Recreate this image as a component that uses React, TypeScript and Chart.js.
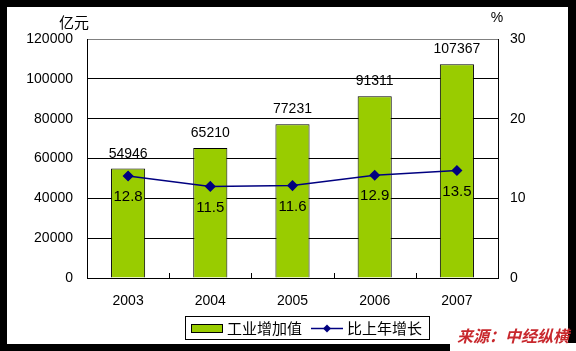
import React, { useEffect, useRef } from "react";
import { Chart, registerables } from "chart.js";

Chart.register(...registerables);

const categories = ["2003", "2004", "2005", "2006", "2007"];
const industryValues = [54946, 65210, 77231, 91311, 107367];
const growthValues = [12.8, 11.5, 11.6, 12.9, 13.5];
const leftTicks = [0, 20000, 40000, 60000, 80000, 100000, 120000];
const rightTicks = [0, 10, 20, 30];
const seriesNames = ["工业增加值", "比上年增长"];
const leftTitle = "亿元";
const rightTitle = "%";
const sourceText = "来源：中经纵横";

const BAR_COLOR = "#99cc00";
const LINE_COLOR = "#000080";
const FONT = "'Liberation Sans', Arial, sans-serif";
const CJK = "'Noto Sans CJK SC', 'DejaVu Sans', sans-serif";

const framePlugin = {
  id: "frame",
  beforeDraw(chart: any) {
    const { ctx, width, height } = chart;
    ctx.save();
    ctx.fillStyle = "#000";
    ctx.fillRect(0, 0, width, height);
    ctx.fillStyle = "#fff";
    ctx.fillRect(7, 7, 561, 337);
    ctx.fillRect(450, 343, 126, 8);
    ctx.restore();
  },
  afterDraw(chart: any) {
    const { ctx, chartArea } = chart;
    const xs = chart.scales.x;
    const ys = chart.scales.y;
    const y1 = chart.scales.y1;
    ctx.save();
    ctx.strokeStyle = "#000";
    ctx.lineWidth = 1;
    for (let i = 1; i < categories.length; i++) {
      const xp = Math.round((xs.getPixelForValue(i - 1) + xs.getPixelForValue(i)) / 2) + 0.5;
      ctx.beginPath();
      ctx.moveTo(xp, chartArea.bottom);
      ctx.lineTo(xp, chartArea.bottom - 5);
      ctx.stroke();
    }
    ctx.font = "14px " + FONT;
    ctx.fillStyle = "#000";
    ctx.textAlign = "center";
    ctx.textBaseline = "alphabetic";
    industryValues.forEach((v, i) => {
      const xp = xs.getPixelForValue(i);
      const yp = ys.getPixelForValue(v);
      ctx.fillText(String(v), xp, yp - 11);
    });
    ctx.font = "15px " + FONT;
    ctx.textBaseline = "middle";
    growthValues.forEach((v, i) => {
      const xp = xs.getPixelForValue(i);
      const yp = y1.getPixelForValue(v);
      ctx.fillText(v.toFixed(1), xp, yp + 21);
    });
    ctx.font = "15px " + CJK;
    ctx.textAlign = "center";
    ctx.fillText(leftTitle, 74, 22);
    ctx.font = "14px " + FONT;
    ctx.fillText(rightTitle, 497, 18);
    ctx.strokeStyle = "#000";
    ctx.lineWidth = 1;
    ctx.strokeRect(185.5, 316.5, 244, 23);
    ctx.fillStyle = BAR_COLOR;
    ctx.fillRect(191, 324, 31, 8);
    ctx.strokeRect(191.5, 324.5, 31, 8);
    ctx.fillStyle = "#000";
    ctx.font = "15px " + CJK;
    ctx.textAlign = "left";
    ctx.textBaseline = "middle";
    ctx.fillText(seriesNames[0], 227, 328.5);
    ctx.strokeStyle = LINE_COLOR;
    ctx.lineWidth = 1.5;
    ctx.beginPath();
    ctx.moveTo(311, 328.5);
    ctx.lineTo(343, 328.5);
    ctx.stroke();
    ctx.fillStyle = LINE_COLOR;
    ctx.beginPath();
    ctx.moveTo(327, 324.5);
    ctx.lineTo(331, 328.5);
    ctx.lineTo(327, 332.5);
    ctx.lineTo(323, 328.5);
    ctx.closePath();
    ctx.fill();
    ctx.fillStyle = "#000";
    ctx.fillText(seriesNames[1], 347, 328.5);
    ctx.font = "italic bold 16px " + CJK;
    ctx.fillStyle = "#c8282d";
    ctx.textAlign = "right";
    ctx.fillText(sourceText, 569, 336);
    ctx.restore();
  },
};

export default function App() {
  const ref = useRef<HTMLCanvasElement | null>(null);
  useEffect(() => {
    document.body.style.margin = "0";
    if (!ref.current) return;
    const chart = new Chart(ref.current, {
      type: "bar",
      data: {
        labels: categories,
        datasets: [
          {
            type: "line",
            label: seriesNames[1],
            data: growthValues,
            yAxisID: "y1",
            borderColor: LINE_COLOR,
            backgroundColor: LINE_COLOR,
            borderWidth: 1.5,
            pointStyle: "rectRot",
            pointRadius: 4.5,
            pointBackgroundColor: LINE_COLOR,
            pointBorderColor: LINE_COLOR,
            tension: 0,
            order: 0,
          } as any,
          {
            type: "bar",
            label: seriesNames[0],
            data: industryValues,
            yAxisID: "y",
            backgroundColor: BAR_COLOR,
            borderColor: "#000",
            borderWidth: 1,
            categoryPercentage: 1,
            barPercentage: 0.415,
            order: 1,
          } as any,
        ],
      },
      options: {
        animation: false,
        responsive: false,
        maintainAspectRatio: false,
        layout: { padding: { left: 0, right: 0, top: 39, bottom: 0 } },
        plugins: { legend: { display: false }, tooltip: { enabled: false } },
        scales: {
          x: {
            offset: true,
            grid: { display: false, drawTicks: false },
            border: { display: true, color: "#000", width: 1 },
            ticks: { font: { size: 14, family: FONT }, color: "#000", padding: 15 },
            afterFit: (s: any) => {
              s.height = 73;
            },
          },
          y: {
            position: "left",
            min: 0,
            max: 120000,
            afterBuildTicks: (s: any) => {
              s.ticks = leftTicks.map((v) => ({ value: v }));
            },
            grid: {
              color: (c: any) => (c.tick && c.tick.value === 120000 ? "#808080" : "#000"),
              drawTicks: false,
              lineWidth: 1,
            },
            border: { display: true, color: "#000", width: 1 },
            ticks: {
              font: { size: 14, family: FONT },
              color: "#000",
              padding: 14,
              callback: (v: any) => String(v),
            },
            afterFit: (s: any) => {
              s.width = 87;
            },
          },
          y1: {
            position: "right",
            min: 0,
            max: 30,
            afterBuildTicks: (s: any) => {
              s.ticks = rightTicks.map((v) => ({ value: v }));
            },
            grid: { drawOnChartArea: false, drawTicks: false },
            border: { display: true, color: "#000", width: 1 },
            ticks: {
              font: { size: 14, family: FONT },
              color: "#000",
              padding: 12,
              callback: (v: any) => String(v),
            },
            afterFit: (s: any) => {
              s.width = 78;
            },
          },
        },
      },
      plugins: [framePlugin],
    });
    return () => chart.destroy();
  }, []);
  return (
    <div style={{ width: 576, height: 351 }}>
      <canvas ref={ref} width={576} height={351} style={{ display: "block", width: 576, height: 351 }} />
    </div>
  );
}
